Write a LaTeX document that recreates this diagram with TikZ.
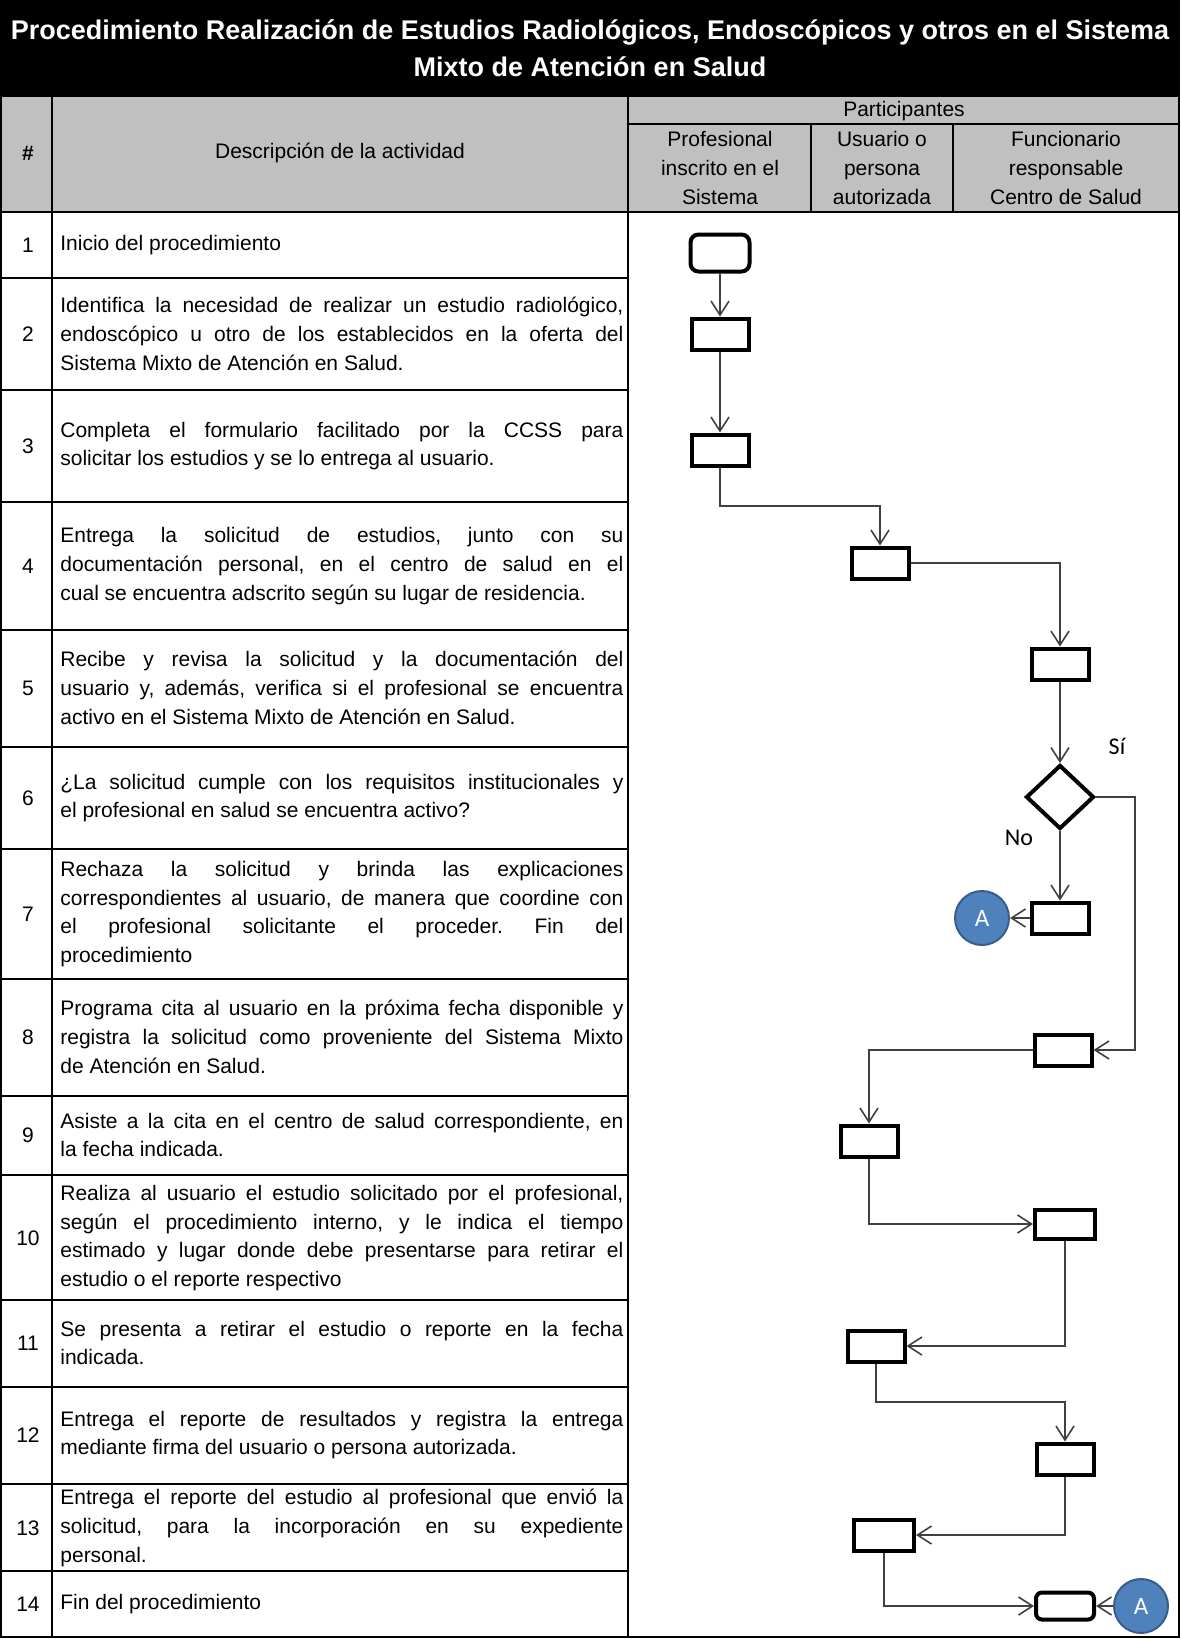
\documentclass[tikz,border=0pt]{standalone}
\usepackage{fontspec}
\setmainfont{Liberation Sans}
\newfontfamily\calib{Carlito}
\usetikzlibrary{arrows.meta,shapes.geometric}
\definecolor{hgray}{RGB}{192,192,192}
\definecolor{accfill}{RGB}{79,129,189}
\definecolor{accdraw}{RGB}{56,93,138}
\pretolerance=10000
\tolerance=10000
\hbadness=10000
\frenchspacing
\begin{document}
\begin{tikzpicture}[x=0.5pt,y=-0.5pt,
  tline/.style={line width=1pt,draw=black},
  txt/.style={font=\fontsize{10.5}{14.4}\selectfont,inner sep=0pt},
  num/.style={txt,anchor=center},
  desc/.style={txt,anchor=west,text width=281.5pt,align=justify},
  act/.style={draw=black,line width=2pt,minimum width=28.5pt,minimum height=15.5pt,inner sep=0pt},
  startbox/.style={act,rounded corners=4pt,minimum width=29.5pt,minimum height=18.5pt},
  endbox/.style={act,rounded corners=3pt,minimum width=29pt,minimum height=13.5pt},
  decision/.style={diamond,draw=black,line width=2pt,minimum width=34pt,minimum height=32pt,inner sep=0pt},
  connector/.style={circle,fill=accfill,draw=accdraw,line width=1pt,minimum size=27pt,inner sep=0pt,text=white,font=\calib\fontsize{12.5}{14}\selectfont},
  conn/.style={draw=black!75,line width=0.8pt,-{Straight Barb[length=7pt,width=9pt]}},
  lbl/.style={font=\calib\fontsize{12}{14}\selectfont,inner sep=0pt}]
\useasboundingbox (0,0) rectangle (1180,1639);
% backgrounds
\fill[black] (0,0) rectangle (1180,96);
\fill[hgray] (0,96) rectangle (1180,212);
% table lines
\draw[tline] (1,96) rectangle (1179,1637);
\draw[tline] (0,212) -- (1180,212);
\draw[tline] (628,124) -- (1180,124);
\draw[tline] (52,96) -- (52,1637);
\draw[tline] (628,96) -- (628,1637);
\draw[tline] (811,124) -- (811,212);
\draw[tline] (953,124) -- (953,212);
\foreach \yy in {278,390,502,630,747,849,979,1096,1175,1300,1387,1484,1571}
  \draw[tline] (0,\yy) -- (628,\yy);
% title
\node[text=white,font=\bfseries\fontsize{13.5}{18.5}\selectfont,align=center,inner sep=0pt] (title) at (590,48)
  {Procedimiento Realización de Estudios Radiológicos, Endoscópicos y otros en el Sistema\\Mixto de Atención en Salud};
% header
\node[txt,font=\bfseries\fontsize{10.5}{14.4}\selectfont] (hnum) at (28,153) {\#};
\node[txt] (hdesc) at (340,153) {Descripción de la actividad};
\node[txt] (hpart) at (904,111) {Participantes};
\node[txt,align=center] (hc1) at (720,168) {Profesional\\inscrito en el\\Sistema};
\node[txt,align=center] (hc2) at (882,168) {Usuario o\\persona\\autorizada};
\node[txt,align=center] (hc3) at (1066,168) {Funcionario\\responsable\\Centro de Salud};
% rows
\node[num] (n1) at (28,245) {1};
\node[desc] (d1) at (60,245) {Inicio del procedimiento};
\node[num] (n2) at (28,334) {2};
\node[desc] (d2) at (60,334) {Identifica la necesidad de realizar un estudio radiológico,\linebreak endoscópico u otro de los establecidos en la oferta del\linebreak Sistema Mixto de Atención en Salud.};
\node[num] (n3) at (28,446) {3};
\node[desc] (d3) at (60,446) {Completa el formulario facilitado por la CCSS para\linebreak solicitar los estudios y se lo entrega al usuario.};
\node[num] (n4) at (28,566) {4};
\node[desc] (d4) at (60,566) {Entrega la solicitud de estudios, junto con su\linebreak documentación personal, en el centro de salud en el\linebreak cual se encuentra adscrito según su lugar de residencia.};
\node[num] (n5) at (28,688) {5};
\node[desc] (d5) at (60,688) {Recibe y revisa la solicitud y la documentación del\linebreak usuario y, además, verifica si el profesional se encuentra\linebreak activo en el Sistema Mixto de Atención en Salud.};
\node[num] (n6) at (28,798) {6};
\node[desc] (d6t) at (60,798) {¿La solicitud cumple con los requisitos institucionales y\linebreak el profesional en salud se encuentra activo?};
\node[num] (n7) at (28,914) {7};
\node[desc] (d7) at (60,914) {Rechaza la solicitud y brinda las explicaciones\linebreak correspondientes al usuario, de manera que coordine con\linebreak el profesional solicitante el proceder. Fin del\linebreak procedimiento};
\node[num] (n8) at (28,1037) {8};
\node[desc] (d8) at (60,1037) {Programa cita al usuario en la próxima fecha disponible y\linebreak registra la solicitud como proveniente del Sistema Mixto\linebreak de Atención en Salud.};
\node[num] (n9) at (28,1135) {9};
\node[desc] (d9) at (60,1135) {Asiste a la cita en el centro de salud correspondiente, en\linebreak la fecha indicada.};
\node[num] (n10) at (28,1238) {10};
\node[desc] (d10) at (60,1238) {Realiza al usuario el estudio solicitado por el profesional,\linebreak según el procedimiento interno, y le indica el tiempo\linebreak estimado y lugar donde debe presentarse para retirar el\linebreak estudio o el reporte respectivo};
\node[num] (n11) at (28,1343) {11};
\node[desc] (d11) at (60,1343) {Se presenta a retirar el estudio o reporte en la fecha\linebreak indicada.};
\node[num] (n12) at (28,1435) {12};
\node[desc] (d12) at (60,1435) {Entrega el reporte de resultados y registra la entrega\linebreak mediante firma del usuario o persona autorizada.};
\node[num] (n13) at (28,1528) {13};
\node[desc] (d13) at (60,1528) {Entrega el reporte del estudio al profesional que envió la\linebreak solicitud, para la incorporación en su expediente\linebreak personal.};
\node[num] (n14) at (28,1604) {14};
\node[desc] (d14) at (60,1604) {Fin del procedimiento};
% flowchart nodes
\node[startbox] (st) at (720,253) {};
\node[act] (b2) at (720,334) {};
\node[act] (b3) at (720,450) {};
\node[act] (b4) at (880,563) {};
\node[act] (b5) at (1060,664) {};
\node[decision] (d6) at (1060,797) {};
\node[act] (b7) at (1060,918) {};
\node[connector] (a1) at (982,918) {A};
\node[act] (b8) at (1063,1050) {};
\node[act] (b9) at (869,1141) {};
\node[act,minimum width=30pt,minimum height=14.5pt] (b10) at (1065,1224) {};
\node[act] (b11) at (876,1346) {};
\node[act] (b12) at (1065,1459) {};
\node[act,minimum width=30pt] (b13) at (884,1535) {};
\node[endbox] (b14) at (1065,1606) {};
\node[connector] (a2) at (1141,1606) {A};
\node[lbl] (si) at (1117,746) {Sí};
\node[lbl] (no) at (1019,838) {No};
% connectors
\coordinate (k34) at (720,506);
\coordinate (sibend) at (1135,797);
\coordinate (k1112) at (876,1402);
\draw[conn] (st.south) -- (b2.north);
\draw[conn] (b2.south) -- (b3.north);
\draw[conn] (b3.south) -- (k34) -| (b4.north);
\draw[conn] (b4.east) -| (b5.north);
\draw[conn] (b5.south) -- (d6.north);
\draw[conn] (d6.south) -- (b7.north);
\draw[conn] (b7.west) -- (a1.east);
\draw[conn] (d6.east) -- (sibend) |- (b8.east);
\draw[conn] (b8.west) -| (b9.north);
\draw[conn] (b9.south) |- (b10.west);
\draw[conn] (b10.south) |- (b11.east);
\draw[conn] (b11.south) -- (k1112) -| (b12.north);
\draw[conn] (b12.south) |- (b13.east);
\draw[conn] (b13.south) |- (b14.west);
\draw[conn] (a2.west) -- (b14.east);
\end{tikzpicture}
\end{document}
